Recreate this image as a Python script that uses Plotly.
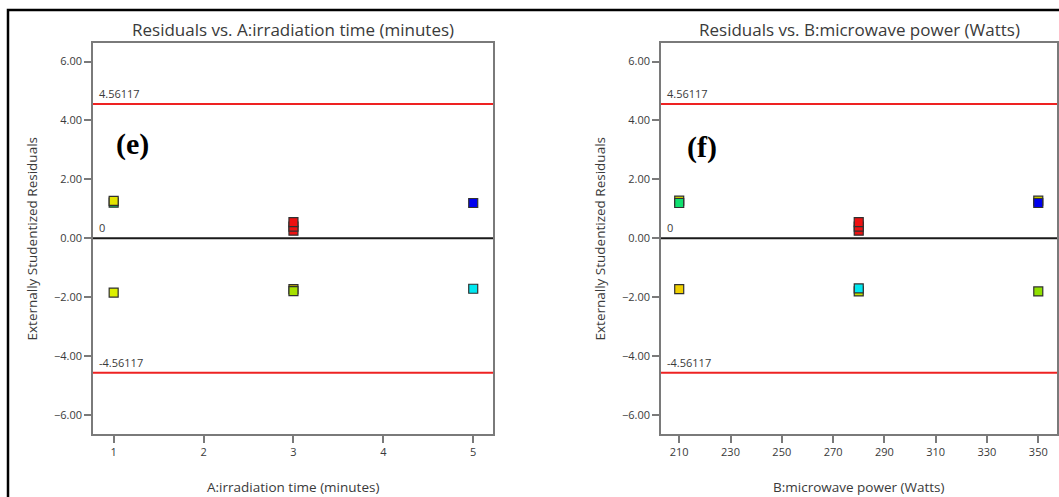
import plotly.graph_objects as go

# ---------------- data ----------------
limit_hi = 4.56117
limit_lo = -4.56117

# Panel (e): residuals vs A: irradiation time (minutes)
a_x = [1, 1, 1, 3, 3, 3, 3, 3, 5, 5]
a_y = [1.21, 1.27, -1.84, 0.26, 0.40, 0.55, -1.72, -1.79, 1.20, -1.71]
a_col = ["#10dd70", "#e4e400", "#ddf000", "#ee1111", "#ee1111", "#ee1111",
         "#c8b000", "#a6e000", "#0000ee", "#00e8f0"]

# Panel (f): residuals vs B: microwave power (Watts)
b_x = [210, 210, 210, 280, 280, 280, 280, 280, 350, 350, 350]
b_y = [1.28, 1.20, -1.72, 0.26, 0.40, 0.55, -1.80, -1.70, 1.28, 1.20, -1.80]
b_col = ["#c8c800", "#10e070", "#f0d000", "#ee1111", "#ee1111", "#ee1111",
         "#c0e000", "#00e8f0", "#c8c800", "#0000ee", "#90e000"]

a_ticks = [1, 2, 3, 4, 5]
b_ticks = [210, 230, 250, 270, 290, 310, 330, 350]
y_ticks = [-6, -4, -2, 0, 2, 4, 6]

W, H = 1059, 497
FONT = "Open Sans"
GRAY = "#7a7a7a"
TXT = "#3a3a3a"

fig = go.Figure()

fig.add_trace(go.Scatter(
    x=a_x, y=a_y, mode="markers", xaxis="x", yaxis="y", showlegend=False,
    marker=dict(symbol="square", size=9, color=a_col,
                line=dict(color="#303030", width=1.2))))
fig.add_trace(go.Scatter(
    x=b_x, y=b_y, mode="markers", xaxis="x2", yaxis="y2", showlegend=False,
    marker=dict(symbol="square", size=9, color=b_col,
                line=dict(color="#303030", width=1.2))))

ydom = [1 - 434.3 / H, 1 - 42.7 / H]
xdom1 = [93 / W, 493 / W]
xdom2 = [661 / W, 1057 / W]

axis_common = dict(showgrid=False, zeroline=False, showline=True,
                   linecolor=GRAY, linewidth=1.5, mirror=True,
                   ticks="outside", ticklen=7, tickcolor=GRAY, tickwidth=1.5,
                   tickfont=dict(family=FONT, size=11, color=TXT))

fig.update_layout(
    width=W, height=H, margin=dict(l=0, r=0, t=0, b=0),
    paper_bgcolor="white", plot_bgcolor="white",
    font=dict(family=FONT, color=TXT),
    xaxis=dict(domain=xdom1, range=[0.77, 5.22], tickvals=a_ticks,
               anchor="y", **axis_common),
    yaxis=dict(domain=ydom, range=[-6.65, 6.64], tickvals=y_ticks,
               tickformat=".2f", anchor="x", **axis_common),
    xaxis2=dict(domain=xdom2, range=[202.9, 357.3], tickvals=b_ticks,
                anchor="y2", **axis_common),
    yaxis2=dict(domain=ydom, range=[-6.65, 6.64], tickvals=y_ticks,
                tickformat=".2f", anchor="x2", **axis_common),
)

shapes = []
annotations = []
panels = [
    ("x", "y", "Residuals vs. A:irradiation time (minutes)",
     "A:irradiation time (minutes)", "(e)", xdom1, 0.0975, 3.2),
    ("x2", "y2", "Residuals vs. B:microwave power (Watts)",
     "B:microwave power (Watts)", "(f)", xdom2, 0.104, 3.1),
]
for xa, ya, title, xtitle, tag, dom, tx, ty in panels:
    for val, col in [(limit_hi, "#ee2222"), (limit_lo, "#ee2222"), (0, "#1a1a1a")]:
        shapes.append(dict(type="line", xref=f"{xa} domain", yref=ya,
                           x0=0, x1=1, y0=val, y1=val,
                           line=dict(color=col, width=2)))
    for val, lab in [(limit_hi, "4.56117"), (limit_lo, "-4.56117"), (0, "0")]:
        annotations.append(dict(xref=f"{xa} domain", yref=ya, x=0.01, y=val,
                                text=lab, showarrow=False, xanchor="left",
                                yanchor="bottom", yshift=1,
                                font=dict(family=FONT, size=11, color=TXT)))
    cx = (dom[0] + dom[1]) / 2
    annotations.append(dict(xref="paper", yref="paper", x=cx, y=1 - 29 / H,
                            text=title, showarrow=False, xanchor="center",
                            yanchor="middle",
                            font=dict(family=FONT, size=17, color=TXT)))
    annotations.append(dict(xref="paper", yref="paper", x=cx, y=1 - 487 / H,
                            text=xtitle, showarrow=False, xanchor="center",
                            yanchor="middle",
                            font=dict(family=FONT, size=13.5, color=TXT)))
    annotations.append(dict(xref="paper", yref="paper",
                            x=dom[0] - 62 / W, y=(ydom[0] + ydom[1]) / 2,
                            text="Externally Studentized Residuals",
                            textangle=-90, showarrow=False, xanchor="center",
                            yanchor="middle",
                            font=dict(family=FONT, size=13.5, color=TXT)))
    annotations.append(dict(xref=f"{xa} domain", yref=ya, x=tx, y=ty,
                            text=f"<b>{tag}</b>", showarrow=False,
                            xanchor="center", yanchor="middle",
                            font=dict(family="Liberation Serif", size=30,
                                      color="black")))

# outer black frame (top & left edges visible)
shapes.append(dict(type="rect", xref="paper", yref="paper",
                   x0=8 / W, x1=1.05, y0=-0.05, y1=1 - 10 / H,
                   line=dict(color="black", width=2.5)))

fig.update_layout(shapes=shapes, annotations=annotations)
fig.write_html("out.html")
